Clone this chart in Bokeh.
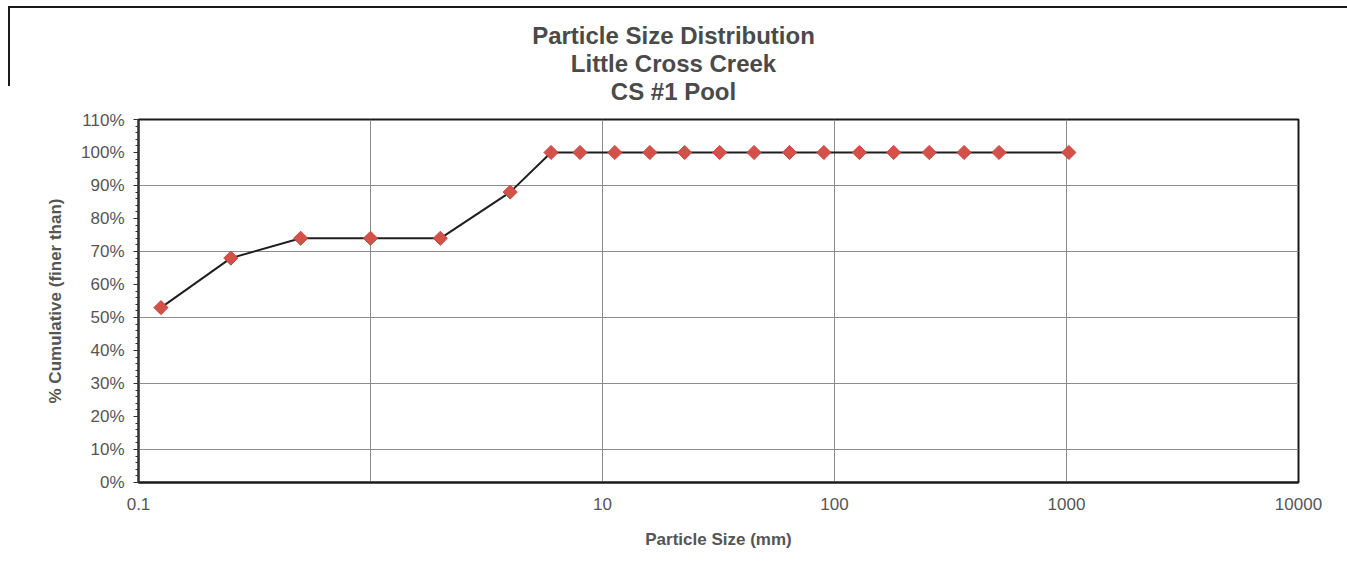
import numpy as np
from bokeh.plotting import figure
from bokeh.layouts import column
from bokeh.models import FixedTicker, PrintfTickFormatter, Range1d, Div
from bokeh.embed import file_html
from bokeh.resources import INLINE

# ---- data ----
sizes_mm = [0.125, 0.25, 0.5, 1, 2, 4, 6, 8, 11.3, 16, 22.6, 32, 45, 64, 90,
            128, 180, 256, 362, 512, 1024]
pct_finer = [53, 68, 74, 74, 74, 88, 100, 100, 100, 100, 100, 100, 100, 100,
             100, 100, 100, 100, 100, 100, 100]

x_ticks = [0.1, 10, 100, 1000, 10000]
x_tick_labels = ["0.1", "10", "100", "1000", "10000"]
x_grid = [1, 10, 100, 1000]
y_ticks = list(range(0, 111, 10))
y_minor = list(range(0, 111, 2))
y_grid = [10, 30, 50, 70, 90]

title_lines = ["Particle Size Distribution", "Little Cross Creek", "CS #1 Pool"]
x_title = "Particle Size (mm)"
y_title = "% Cumulative (finer than)"

FONT = "Liberation Sans"
TXT = "#4a4a4a"
LBL = "#555555"

# ---- title block (centred across the page) ----
title_html = (
    '<div style="position:relative;width:1347px;height:110px;">'
    '<div style="position:absolute;left:8px;right:0;top:6px;'
    'border-top:2px solid #1a1a1a;"></div>'
    '<div style="position:absolute;left:8px;top:6px;height:80px;'
    'border-left:2px solid #1a1a1a;"></div>'
    '<div style="position:absolute;left:0;right:0;top:22px;text-align:center;'
    "font-family:'Liberation Sans',Arial,sans-serif;font-weight:bold;"
    'font-size:24px;line-height:28px;color:' + TXT + ';">'
    + "<br>".join(title_lines) + '</div></div>'
)
title_div = Div(text=title_html, width=1347, height=110, margin=0)

# ---- chart ----
p = figure(width=1347, height=474, x_axis_type="log",
           x_range=Range1d(0.1, 10000), y_range=Range1d(0, 110),
           output_backend="svg", toolbar_location=None,
           min_border_left=138, min_border_right=49,
           min_border_top=9, min_border_bottom=102)

p.outline_line_color = "#1a1a1a"
p.outline_line_width = 2
p.background_fill_color = "white"
p.border_fill_color = "white"

# grids
p.xgrid.ticker = FixedTicker(ticks=x_grid)
p.ygrid.ticker = FixedTicker(ticks=y_grid)
p.xgrid.grid_line_color = "#8c8c8c"
p.ygrid.grid_line_color = "#8c8c8c"
p.xgrid.grid_line_width = 1
p.ygrid.grid_line_width = 1

# x axis
xa = p.xaxis[0]
xa.ticker = FixedTicker(ticks=x_ticks)
xa.major_label_overrides = {t: l for t, l in zip(x_ticks, x_tick_labels)}
xa.major_tick_out = 0
xa.major_tick_in = 0
xa.minor_tick_line_color = None
xa.axis_line_color = "#1a1a1a"
xa.axis_line_width = 2
xa.major_label_text_font = FONT
xa.major_label_text_font_size = "17px"
xa.major_label_text_color = LBL
xa.major_label_standoff = 15
xa.axis_label = x_title
xa.axis_label_text_font = FONT
xa.axis_label_text_font_style = "bold"
xa.axis_label_text_font_size = "17px"
xa.axis_label_text_color = LBL
xa.axis_label_standoff = 17

# y axis
ya = p.yaxis[0]
ya.ticker = FixedTicker(ticks=y_ticks, minor_ticks=y_minor)
ya.formatter = PrintfTickFormatter(format="%d%%")
ya.major_tick_out = 5
ya.major_tick_in = 0
ya.minor_tick_out = 3
ya.minor_tick_in = 0
ya.axis_line_color = "#333333"
ya.axis_line_width = 2
ya.major_tick_line_color = "#333333"
ya.minor_tick_line_color = "#333333"
ya.major_label_text_font = FONT
ya.major_label_text_font_size = "17px"
ya.major_label_text_color = LBL
ya.major_label_standoff = 9
ya.axis_label = y_title
ya.axis_label_text_font = FONT
ya.axis_label_text_font_style = "bold"
ya.axis_label_text_font_size = "17px"
ya.axis_label_text_color = LBL
ya.axis_label_standoff = 13

# series
p.line(sizes_mm, pct_finer, line_color="#1f1f1f", line_width=2)
p.scatter(sizes_mm, pct_finer, marker="square", angle=np.pi / 4, size=10,
          fill_color="#d4514a", line_color="#c8463f", line_width=1)

layout = column(title_div, p, spacing=0)
open("out.html", "w").write(file_html(layout, INLINE))
